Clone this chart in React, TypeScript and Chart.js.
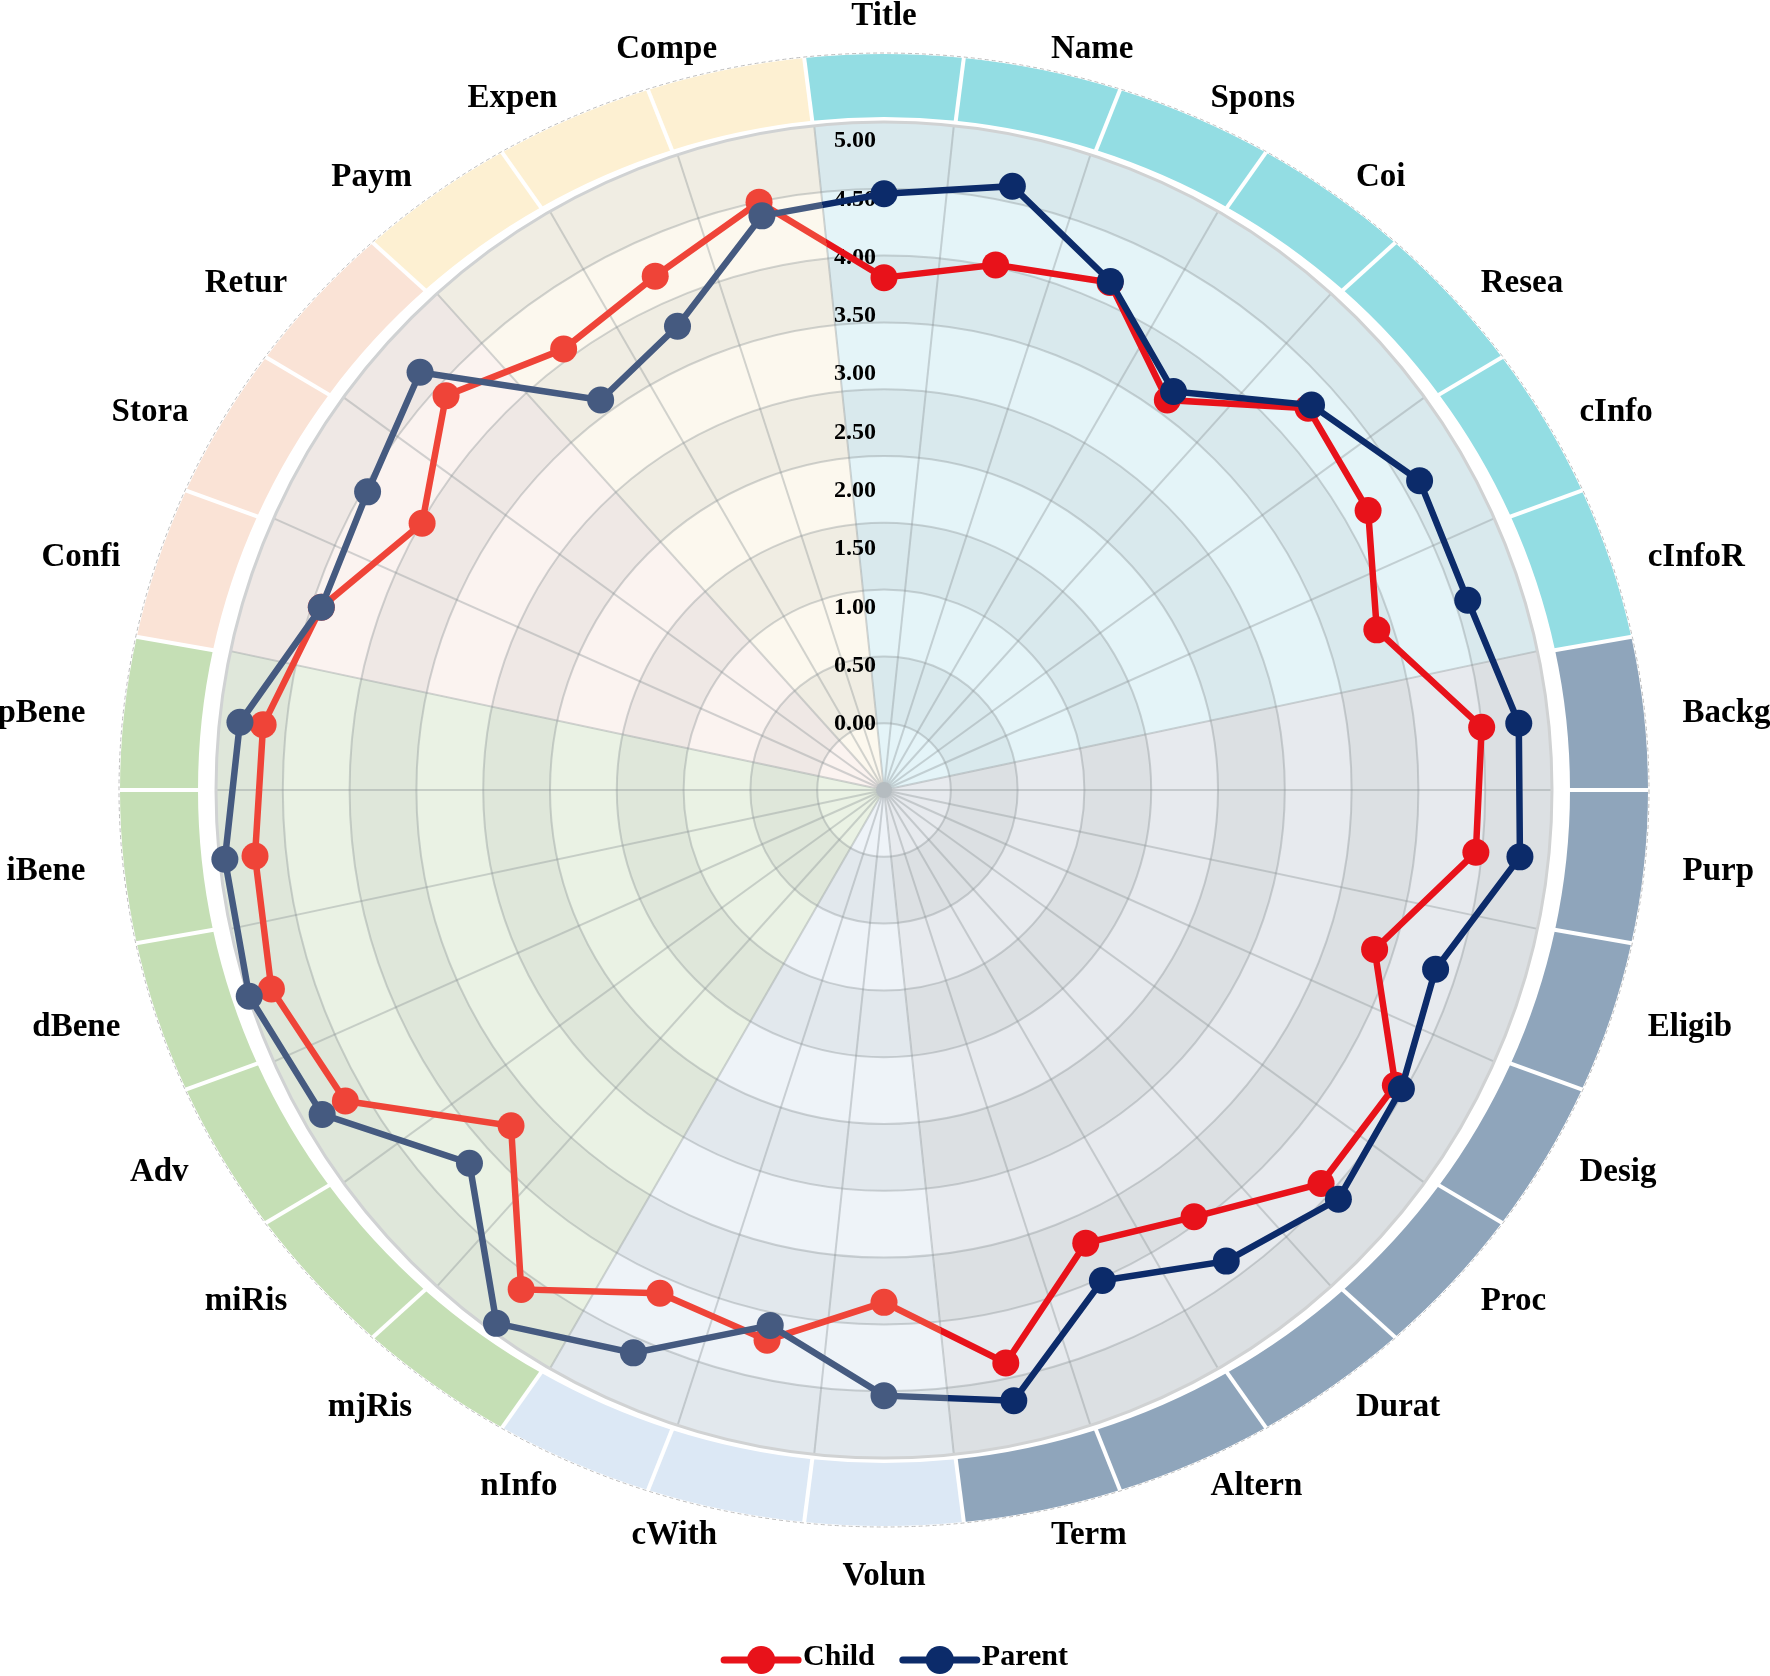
import React, { useEffect, useRef } from 'react';
import { Chart, registerables } from 'chart.js';

Chart.register(...registerables);

// ---------------- data ----------------
const categories = [
  'Title', 'Name', 'Spons', 'Coi', 'Resea', 'cInfo', 'cInfoR',
  'Backg', 'Purp', 'Eligib', 'Desig', 'Proc', 'Durat', 'Altern', 'Term',
  'Volun', 'cWith', 'nInfo',
  'mjRis', 'miRis', 'Adv', 'dBene', 'iBene', 'pBene',
  'Confi', 'Stora', 'Retur',
  'Paym', 'Expen', 'Compe',
];
const childValues = [
  3.82, 4.03, 4.19, 3.56, 4.32, 4.22, 3.87,
  4.58, 4.53, 3.85, 4.49, 4.47, 3.95, 3.68, 4.45,
  3.82, 4.25, 4.15,
  4.72, 3.73, 4.76, 4.95, 4.85, 4.78,
  4.5, 4.0, 4.48,
  4.1, 4.25, 4.58,
];
const parentValues = [
  4.54, 4.72, 4.2, 3.65, 4.36, 4.73, 4.69,
  4.9, 4.91, 4.4, 4.55, 4.67, 4.42, 4.03, 4.78,
  4.62, 4.12, 4.71,
  5.08, 4.21, 4.99, 5.15, 5.11, 4.98,
  4.5, 4.54, 4.78,
  3.56, 3.78, 4.46,
];
const seriesNames = ['Child', 'Parent'];
const tickValues = [0, 0.5, 1, 1.5, 2, 2.5, 3, 3.5, 4, 4.5, 5];
const groupSizes = [7, 8, 3, 6, 3, 3];

// ---------------- styles ----------------
const RING_COLORS = ['#93DDE3', '#8FA5BB', '#DCE8F5', '#C5DFB5', '#FAE3D6', '#FDF0D2'];
const WEDGE_COLORS = ['#E4F4F8', '#E7EAEE', '#EEF3F8', '#EAF2E4', '#FBF3F0', '#FCF8EE'];
const CHILD_DARK = '#E8121A';
const CHILD_LIGHT = '#EF4438';
const PARENT_DARK = '#0C2B6A';
const PARENT_LIGHT = '#455A80';
const CX = 884;
const CY = 790;
const RADIUS = 668;
const V_MIN = -0.575;
const V_MAX = 5.155;
const SERIF = '"Liberation Serif", "Times New Roman", serif';

const darkCount = groupSizes[0] + groupSizes[1];

function halfGradient(chart: any, dark: string, light: string): any {
  const s = chart && chart.scales ? chart.scales.r : null;
  const ctx = chart ? chart.ctx : null;
  if (!s || !ctx || typeof ctx.createConicGradient !== 'function' || !isFinite(s.xCenter)) return dark;
  const n = categories.length;
  const step = (2 * Math.PI) / n;
  const start = -Math.PI / 2 - step / 2;
  const frac = darkCount / n;
  const g = ctx.createConicGradient(start, s.xCenter, s.yCenter);
  g.addColorStop(0, dark);
  g.addColorStop(frac, dark);
  g.addColorStop(frac, light);
  g.addColorStop(1, light);
  return g;
}

const pointColors = (dark: string, light: string) =>
  categories.map((_, i) => (i < darkCount ? dark : light));

const backdropPlugin = {
  id: 'backdrop',
  beforeDatasetsDraw(chart: any) {
    const s = chart.scales.r;
    const ctx: CanvasRenderingContext2D = chart.ctx;
    const cx = s.xCenter;
    const cy = s.yCenter;
    const R = s.drawingArea;
    const n = categories.length;
    const step = (2 * Math.PI) / n;
    const base = -Math.PI / 2;
    ctx.save();

    // sector wedges
    let start = 0;
    groupSizes.forEach((size, g) => {
      const a0 = base + (start - 0.5) * step;
      const a1 = base + (start + size - 0.5) * step;
      ctx.beginPath();
      ctx.moveTo(cx, cy);
      ctx.arc(cx, cy, R, a0, a1);
      ctx.closePath();
      ctx.fillStyle = WEDGE_COLORS[g];
      ctx.fill();
      start += size;
    });

    // alternating bands
    const nb = 10;
    for (let k = 1; k < nb; k += 2) {
      ctx.beginPath();
      ctx.arc(cx, cy, ((k + 1) * R) / nb, 0, Math.PI * 2);
      ctx.arc(cx, cy, (k * R) / nb, 0, Math.PI * 2, true);
      ctx.fillStyle = 'rgba(40,50,60,0.055)';
      ctx.fill();
    }

    // grid circles
    ctx.strokeStyle = 'rgba(140,146,150,0.38)';
    ctx.lineWidth = 2;
    for (let k = 1; k < nb; k++) {
      ctx.beginPath();
      ctx.arc(cx, cy, (k * R) / nb, 0, Math.PI * 2);
      ctx.stroke();
    }
    // spokes
    for (let i = 0; i < n; i++) {
      const a = base + (i - 0.5) * step;
      ctx.beginPath();
      ctx.moveTo(cx, cy);
      ctx.lineTo(cx + R * Math.cos(a), cy + R * Math.sin(a));
      ctx.stroke();
    }
    // disk edge
    ctx.beginPath();
    ctx.arc(cx, cy, R, 0, Math.PI * 2);
    ctx.strokeStyle = '#D0D2D3';
    ctx.lineWidth = 3;
    ctx.stroke();

    // center dot
    ctx.beginPath();
    ctx.arc(cx, cy, 8, 0, Math.PI * 2);
    ctx.fillStyle = '#B5BCC0';
    ctx.fill();

    // outer ring segments (slightly wider than tall, like the original)
    const ix = R + 18;
    const iy = R + 5;
    const ox = R + 96;
    const oy = R + 68;
    start = 0;
    groupSizes.forEach((size, g) => {
      for (let j = 0; j < size; j++) {
        const i = start + j;
        const a0 = base + (i - 0.5) * step;
        const a1 = base + (i + 0.5) * step;
        ctx.beginPath();
        ctx.ellipse(cx, cy, ox, oy, 0, a0, a1);
        ctx.ellipse(cx, cy, ix, iy, 0, a1, a0, true);
        ctx.closePath();
        ctx.fillStyle = RING_COLORS[g];
        ctx.fill();
      }
      start += size;
    });
    ctx.strokeStyle = '#FFFFFF';
    ctx.lineWidth = 4;
    for (let i = 0; i < n; i++) {
      const a = base + (i - 0.5) * step;
      ctx.beginPath();
      ctx.moveTo(cx + (ix - 2) * Math.cos(a), cy + (iy - 2) * Math.sin(a));
      ctx.lineTo(cx + (ox + 2) * Math.cos(a), cy + (oy + 2) * Math.sin(a));
      ctx.stroke();
    }
    ctx.beginPath();
    ctx.ellipse(cx, cy, ox + 1, oy + 1, 0, 0, Math.PI * 2);
    ctx.setLineDash([4, 3]);
    ctx.strokeStyle = '#BDBDBD';
    ctx.lineWidth = 1;
    ctx.stroke();
    ctx.setLineDash([]);

    // tick labels
    ctx.fillStyle = '#000';
    ctx.font = `bold 24px ${SERIF}`;
    ctx.textAlign = 'right';
    ctx.textBaseline = 'middle';
    tickValues.forEach((v) => {
      const d = s.getDistanceFromCenterForValue(v);
      ctx.fillText(v.toFixed(2), cx - 8, cy - d + 1);
    });

    // category labels
    ctx.font = `bold 33px ${SERIF}`;
    ctx.textBaseline = 'alphabetic';
    const A = R + 135;
    const B = R + 92;
    categories.forEach((label, i) => {
      const t = i * step;
      const sn = Math.sin(t);
      const cs = Math.cos(t);
      const ax = cx + A * sn;
      let yc = cy - B * cs;
      const vertical = Math.abs(sn) < 0.05;
      if (vertical) yc += cs > 0 ? -16 : 24;
      ctx.textAlign = vertical ? 'center' : sn > 0 ? 'left' : 'right';
      ctx.fillText(label, ax, yc + 11);
    });
    ctx.restore();
  },
  afterDraw(chart: any) {
    const ctx: CanvasRenderingContext2D = chart.ctx;
    const s = chart.scales.r;
    ctx.save();
    ctx.font = `bold 30px ${SERIF}`;
    const colors = [CHILD_DARK, PARENT_DARK];
    const lineW = 74;
    const gapText = 5;
    const gapItem = 28;
    const widths = seriesNames.map((t) => lineW + gapText + ctx.measureText(t).width);
    const total = widths.reduce((a, b) => a + b, 0) + gapItem * (seriesNames.length - 1);
    let x = s.xCenter + 12 - total / 2;
    const y = 1660;
    seriesNames.forEach((name, k) => {
      ctx.strokeStyle = colors[k];
      ctx.lineWidth = 7;
      ctx.lineCap = 'round';
      ctx.beginPath();
      ctx.moveTo(x, y);
      ctx.lineTo(x + lineW, y);
      ctx.stroke();
      ctx.beginPath();
      ctx.arc(x + lineW / 2, y, 14, 0, Math.PI * 2);
      ctx.fillStyle = colors[k];
      ctx.fill();
      ctx.fillStyle = '#000';
      ctx.textAlign = 'left';
      ctx.textBaseline = 'alphabetic';
      ctx.fillText(name, x + lineW + gapText, y + 5);
      x += widths[k] + gapItem;
    });
    ctx.restore();
  },
};

export default function App() {
  const ref = useRef<HTMLCanvasElement>(null);
  useEffect(() => {
    const canvas = ref.current;
    if (!canvas) return;
    const chart = new Chart(canvas, {
      type: 'radar',
      data: {
        labels: categories,
        datasets: [
          {
            label: seriesNames[0],
            data: childValues,
            order: 1,
            borderColor: (c: any) => halfGradient(c.chart, CHILD_DARK, CHILD_LIGHT),
            backgroundColor: 'rgba(0,0,0,0)',
            fill: false,
            borderWidth: 6.5,
            pointRadius: 13.5,
            pointHoverRadius: 13.5,
            pointBackgroundColor: pointColors(CHILD_DARK, CHILD_LIGHT),
            pointBorderColor: pointColors(CHILD_DARK, CHILD_LIGHT),
            pointBorderWidth: 0,
            tension: 0,
          },
          {
            label: seriesNames[1],
            data: parentValues,
            order: 0,
            borderColor: (c: any) => halfGradient(c.chart, PARENT_DARK, PARENT_LIGHT),
            backgroundColor: 'rgba(0,0,0,0)',
            fill: false,
            borderWidth: 6.5,
            pointRadius: 13.5,
            pointHoverRadius: 13.5,
            pointBackgroundColor: pointColors(PARENT_DARK, PARENT_LIGHT),
            pointBorderColor: pointColors(PARENT_DARK, PARENT_LIGHT),
            pointBorderWidth: 0,
            tension: 0,
          },
        ] as any,
      },
      options: {
        responsive: false,
        devicePixelRatio: 1,
        animation: false,
        events: [],
        layout: { padding: 0 },
        plugins: { legend: { display: false }, tooltip: { enabled: false } },
        scales: {
          r: {
            min: V_MIN,
            max: V_MAX,
            beginAtZero: false,
            startAngle: 0,
            grid: { display: false },
            angleLines: { display: false },
            ticks: { display: false, showLabelBackdrop: false },
            pointLabels: { display: false },
            afterFit: (scale: any) => {
              scale.xCenter = CX;
              scale.yCenter = CY;
              scale.drawingArea = RADIUS;
            },
          } as any,
        },
      } as any,
      plugins: [backdropPlugin as any],
    });
    return () => chart.destroy();
  }, []);
  return (
    <div style={{ position: 'absolute', left: 0, top: 0, width: 1770, height: 1676, background: '#fff' }}>
      <canvas ref={ref} width={1770} height={1676} style={{ width: 1770, height: 1676, display: 'block' }} />
    </div>
  );
}
